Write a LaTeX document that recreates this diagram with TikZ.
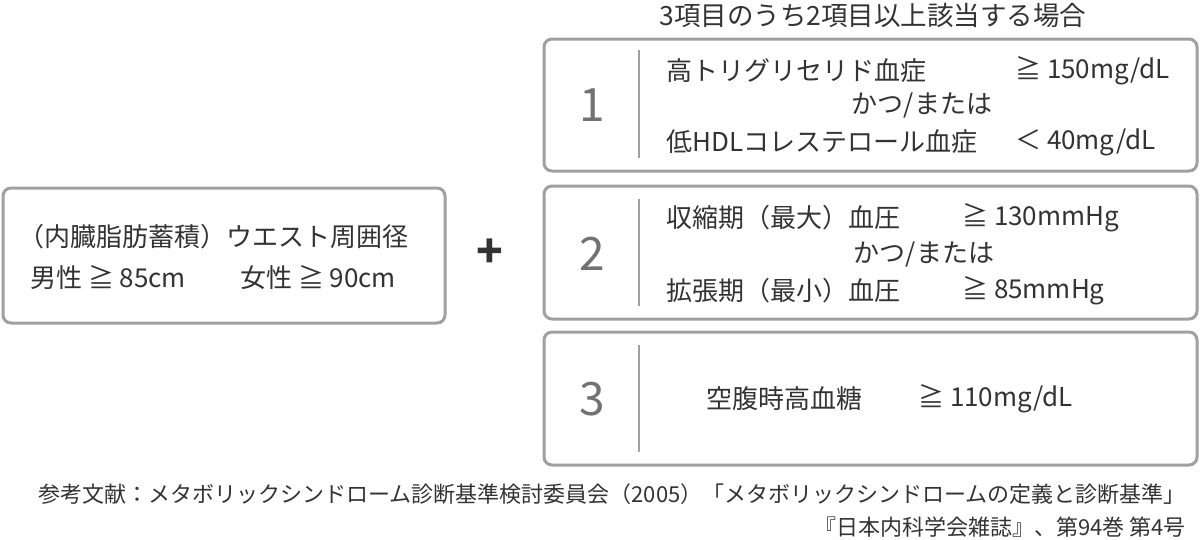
\documentclass[tikz,border=0pt]{standalone}
\usepackage{fontspec}
\setmainfont{Noto Sans CJK JP}
\definecolor{txt}{HTML}{333333}
\definecolor{frame}{HTML}{A0A0A0}
\definecolor{numc}{HTML}{727272}
\begin{document}
\begin{tikzpicture}[x=1pt,y=-1pt,
  box/.style={draw=frame,line width=3pt,rounded corners=8pt,fill=white},
  divider/.style={draw=frame,line width=2pt},
  lbl/.style={inner sep=0pt,anchor=west,text=txt,font=\fontsize{26}{30}\selectfont},
  ctr/.style={inner sep=0pt,anchor=center,text=txt,font=\fontsize{26}{30}\selectfont},
  numlbl/.style={inner sep=0pt,anchor=center,text=numc,font=\fontsize{46}{50}\selectfont},
  foot/.style={inner sep=0pt,anchor=east,text=txt,font=\fontsize{22}{26}\selectfont}]
\useasboundingbox (0,0) rectangle (1200,539);
% boxes
\draw[box] (3,188) rectangle (445,323);
\draw[box] (544,39) rectangle (1197,171);
\draw[box] (544,186) rectangle (1197,319);
\draw[box] (544,332) rectangle (1197,465);
% title
\node[ctr,font=\fontsize{26.5}{30}\selectfont] (title) at (873,15) {3項目のうち2項目以上該当する場合};
% left box
\node[lbl] (w1) at (18,237) {（内臓脂肪蓄積）ウエスト周囲径};
\node[lbl] (w2) at (30,278) {男性 ≧ 85cm};
\node[lbl] (w3) at (240,278) {女性 ≧ 90cm};
% plus
\node[inner sep=0pt,text=txt,font=\fontsize{44}{46}\selectfont\bfseries] (plus) at (490,253) {+};
% box 1
\node[numlbl] (n1) at (592,105) {1};
\coordinate (d1a) at (639,50); \coordinate (d1b) at (639,158);
\draw[divider] (d1a) -- (d1b);
\node[lbl] (a1) at (666,71) {高トリグリセリド血症};
\node[lbl] (a2) at (1015,71) {≧ 150mg/dL};
\node[ctr] (a3) at (922,105) {かつ/または};
\node[lbl] (a4) at (666,142) {低HDLコレステロール血症};
\node[lbl] (a5) at (1015,142) {＜ 40mg/dL};
% box 2
\node[numlbl] (n2) at (592,254) {2};
\coordinate (d2a) at (639,199); \coordinate (d2b) at (639,306);
\draw[divider] (d2a) -- (d2b);
\node[lbl] (b1) at (666,218) {収縮期（最大）血圧};
\node[lbl] (b2) at (962,218) {≧ 130mmHg};
\node[ctr] (b3) at (924,254) {かつ/または};
\node[lbl] (b4) at (666,291) {拡張期（最小）血圧};
\node[lbl] (b5) at (962,291) {≧ 85mmHg};
% box 3
\node[numlbl] (n3) at (592,399) {3};
\coordinate (d3a) at (639,345); \coordinate (d3b) at (639,452);
\draw[divider] (d3a) -- (d3b);
\node[lbl] (c1) at (706,399) {空腹時高血糖};
\node[lbl] (c2) at (918,399) {≧ 110mg/dL};
% footer
\node[foot] (f1) at (1186,494) {参考文献：メタボリックシンドローム診断基準検討委員会（2005）「メタボリックシンドロームの定義と診断基準」};
\node[foot] (f2) at (1186,527) {『日本内科学会雑誌』、第94巻 第4号};
\end{tikzpicture}
\end{document}
